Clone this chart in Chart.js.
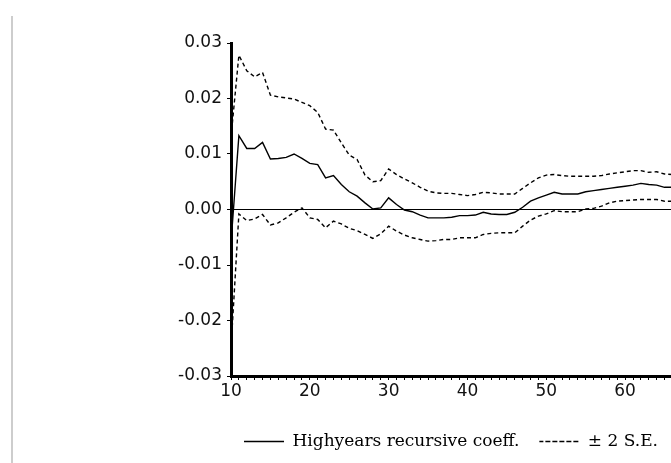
<!DOCTYPE html>
<html lang="en">
<head>
    <meta charset="UTF-8">
    <title>Highyears recursive coefficient</title>
    <script src="https://cdn.jsdelivr.net/npm/chart.js"></script>
    <style>
        html, body { margin: 0; padding: 0; background: #fff; overflow: hidden; }
        #frame { position: absolute; left: 11px; top: 16px; width: 2px; height: 447px; background: #cdcdcd; }
        #wrap { position: absolute; left: 0; top: 0; width: 902px; height: 463px; }
    </style>
</head>
<body>
    <div id="frame"></div>
    <div id="wrap"><canvas id="coefChart"></canvas></div>

    <script>
        // observation index (x axis)
        const obs = [10, 11, 12, 13, 14, 15, 16, 17, 18, 19, 20, 21, 22, 23, 24, 25, 26, 27, 28, 29,
                     30, 31, 32, 33, 34, 35, 36, 37, 38, 39, 40, 41, 42, 43, 44, 45, 46, 47, 48, 49,
                     50, 51, 52, 53, 54, 55, 56, 57, 58, 59, 60, 61, 62, 63, 64, 65, 66];

        // recursive coefficient
        const coef = [-0.0060, 0.0133, 0.0110, 0.0110, 0.0121, 0.0091, 0.0092, 0.0094, 0.0100, 0.0092,
                      0.0083, 0.0081, 0.0057, 0.0061, 0.0045, 0.0032, 0.0024, 0.0012, 0.0001, 0.0003,
                      0.0021, 0.0009, -0.0001, -0.0004, -0.0010, -0.0015, -0.0015, -0.0015, -0.0014, -0.0011,
                      -0.0011, -0.0010, -0.0005, -0.0008, -0.0009, -0.0009, -0.0005, 0.0004, 0.0015, 0.0021,
                      0.0026, 0.0031, 0.0028, 0.0028, 0.0028, 0.0032, 0.0034, 0.0036, 0.0038, 0.0040,
                      0.0042, 0.0044, 0.0047, 0.0045, 0.0044, 0.0040, 0.0040];

        // +2 S.E. band
        const upper = [0.0130, 0.0278, 0.0250, 0.0239, 0.0247, 0.0206, 0.0203, 0.0201, 0.0199, 0.0193,
                       0.0187, 0.0175, 0.0145, 0.0143, 0.0120, 0.0098, 0.0090, 0.0062, 0.0050, 0.0052,
                       0.0073, 0.0063, 0.0055, 0.0048, 0.0040, 0.0033, 0.0030, 0.0029, 0.0029, 0.0027,
                       0.0025, 0.0027, 0.0031, 0.0030, 0.0028, 0.0028, 0.0028, 0.0038, 0.0048, 0.0057,
                       0.0062, 0.0063, 0.0061, 0.0060, 0.0060, 0.0060, 0.0060, 0.0061, 0.0064, 0.0066,
                       0.0068, 0.0070, 0.0070, 0.0067, 0.0068, 0.0064, 0.0063];

        // -2 S.E. band
        const lower = [-0.0250, -0.0008, -0.0020, -0.0017, -0.0009, -0.0028, -0.0024, -0.0015, -0.0005, 0.0003,
                       -0.0015, -0.0018, -0.0033, -0.0021, -0.0026, -0.0034, -0.0038, -0.0045, -0.0052, -0.0044,
                       -0.0030, -0.0039, -0.0046, -0.0051, -0.0054, -0.0057, -0.0056, -0.0054, -0.0054, -0.0051,
                       -0.0051, -0.0051, -0.0045, -0.0043, -0.0042, -0.0042, -0.0042, -0.0030, -0.0019, -0.0012,
                       -0.0008, -0.0002, -0.0004, -0.0004, -0.0004, 0.0001, 0.0002, 0.0006, 0.0012, 0.0015,
                       0.0016, 0.0017, 0.0018, 0.0018, 0.0018, 0.0015, 0.0015];

        const yTicks = [-0.03, -0.02, -0.01, 0.00, 0.01, 0.02, 0.03];

        const toPoints = vals => vals.map((v, i) => ({ x: obs[i], y: v }));

        const dashed = [4, 3];

        new Chart(document.getElementById('coefChart'), {
            type: 'line',
            data: {
                datasets: [
                    {
                        label: 'Highyears recursive coeff.',
                        data: toPoints(coef),
                        borderColor: '#000',
                        backgroundColor: 'transparent',
                        borderWidth: 1.4
                    },
                    {
                        label: '\u00b1 2 S.E.',
                        data: toPoints(upper),
                        borderColor: '#000',
                        backgroundColor: 'transparent',
                        borderWidth: 1.4,
                        borderDash: dashed
                    },
                    {
                        label: 'lower',
                        data: toPoints(lower),
                        borderColor: '#000',
                        backgroundColor: 'transparent',
                        borderWidth: 1.4,
                        borderDash: dashed
                    }
                ]
            },
            options: {
                responsive: true,
                maintainAspectRatio: false,
                animation: false,
                elements: { point: { radius: 0 }, line: { tension: 0 } },
                layout: { padding: { left: 0, right: 0, top: 43, bottom: 3 } },
                plugins: {
                    tooltip: { enabled: false },
                    legend: {
                        position: 'bottom',
                        labels: {
                            color: '#000',
                            font: { family: 'DejaVu Serif', size: 17 },
                            boxWidth: 40,
                            boxHeight: 0,
                            padding: 20,
                            filter: item => item.datasetIndex < 2
                        }
                    }
                },
                scales: {
                    x: {
                        type: 'linear',
                        min: 10,
                        max: 95,
                        afterFit: s => { s.height = 37; },
                        border: { display: true, color: '#000', width: 3 },
                        grid: { drawOnChartArea: false, drawTicks: true, tickLength: 4, tickColor: '#000' },
                        ticks: {
                            stepSize: 1,
                            autoSkip: false,
                            maxRotation: 0,
                            padding: 1,
                            color: '#111',
                            font: { family: 'DejaVu Sans', size: 17 },
                            callback: v => (v % 10 === 0 ? String(v) : '')
                        }
                    },
                    y: {
                        min: yTicks[0],
                        max: yTicks[yTicks.length - 1],
                        afterFit: s => { s.width = 231; },
                        afterBuildTicks: s => { s.ticks = yTicks.map(v => ({ value: v })); },
                        border: { display: true, color: '#000', width: 3 },
                        grid: {
                            drawOnChartArea: true,
                            tickLength: 4,
                            tickColor: '#000',
                            color: c => (c.tick && Math.abs(c.tick.value) < 1e-9 ? '#000' : 'transparent'),
                            lineWidth: 1
                        },
                        ticks: {
                            padding: 5,
                            color: '#111',
                            font: { family: 'DejaVu Sans', size: 17 },
                            callback: v => v.toFixed(2)
                        }
                    }
                }
            }
        });
    </script>
</body>
</html>
